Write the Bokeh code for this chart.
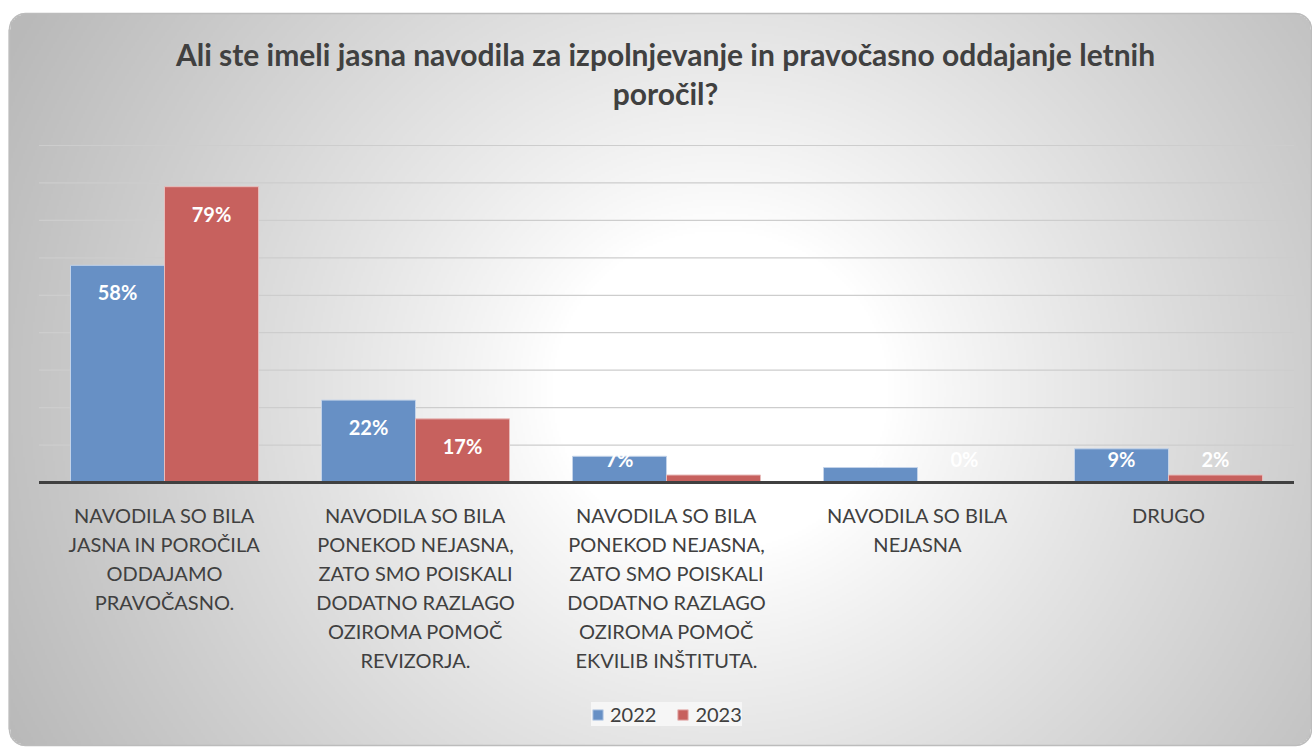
import numpy as np
from bokeh.plotting import figure
from bokeh.models import Range1d, Legend, LegendItem
from bokeh.core.properties import value
from bokeh.embed import file_html
from bokeh.resources import INLINE

# ---------------- data ----------------
title_lines = ["Ali ste imeli jasna navodila za izpolnjevanje in pravočasno oddajanje letnih",
               "poročil?"]
categories = [
    "NAVODILA SO BILA\nJASNA IN POROČILA\nODDAJAMO\nPRAVOČASNO.",
    "NAVODILA SO BILA\nPONEKOD NEJASNA,\nZATO SMO POISKALI\nDODATNO RAZLAGO\nOZIROMA POMOČ\nREVIZORJA.",
    "NAVODILA SO BILA\nPONEKOD NEJASNA,\nZATO SMO POISKALI\nDODATNO RAZLAGO\nOZIROMA POMOČ\nEKVILIB INŠTITUTA.",
    "NAVODILA SO BILA\nNEJASNA",
    "DRUGO",
]
series_names = ["2022", "2023"]
values_2022 = [58, 22, 7, 4, 9]
values_2023 = [79, 17, 2, 0, 2]
grid_ticks = [10, 20, 30, 40, 50, 60, 70, 80, 90]

# ---------------- layout (page pixels) ----------------
W, H = 1312, 747
CAT_PX0, CAT_STEP = 164, 251
BASE_PX, PX_PER_PCT = 482, 337 / 90

x_start = (0 - CAT_PX0) / CAT_STEP
x_end = (W - CAT_PX0) / CAT_STEP
y_end = BASE_PX / PX_PER_PCT
y_start = (BASE_PX - H) / PX_PER_PCT

TEXT = "#404040"
FONT = value("Lato")
BLUE, BLUE_LINE = "#6790c5", "#c3d3e9"
RED, RED_LINE = "#c7615e", "#e8bcbb"

p = figure(width=W, height=H, x_range=Range1d(x_start, x_end), y_range=Range1d(y_start, y_end),
           output_backend="svg", toolbar_location=None, x_axis_location=None,
           y_axis_location=None, min_border=0)
p.grid.visible = False
p.outline_line_color = None
p.border_fill_color = "white"
p.background_fill_color = "white"
p.extra_x_ranges = {"px": Range1d(0, W)}
p.extra_y_ranges = {"py": Range1d(0, H)}


def py(Y):
    return H - Y


def pct(Y):
    return (BASE_PX - Y) / PX_PER_PCT


# ---------------- background (radial gradient in a rounded box) ----------------
s = 2
w2, h2 = (W + 1) // s, (H + 1) // s
xs = (np.arange(w2) + 0.5) * s
Ys = H - (np.arange(h2) + 0.5) * s
XX, YY = np.meshgrid(xs, Ys)
d = np.hypot((XX - 720) * 0.95, YY - 390)
t = np.clip((d - 160) / 600, 0, 1) ** 0.9
g = (255 - 70 * t).astype(np.uint8)
L, T, R, B, rad = 9, 13, 1311, 745, 16
qx = np.maximum(np.maximum(L + rad - XX, XX - (R - rad)), 0)
qy = np.maximum(np.maximum(T + rad - YY, YY - (B - rad)), 0)
inside = np.hypot(qx, qy) <= rad
rgba = np.zeros((h2, w2, 4), dtype=np.uint8)
rgba[..., 0] = g
rgba[..., 1] = g
rgba[..., 2] = g
rgba[..., 3] = np.where(inside, 255, 0)
img = rgba.view(np.uint32).reshape(h2, w2)
p.image_rgba(image=[img], x=0, y=py(H), dw=w2 * s, dh=h2 * s,
             x_range_name="px", y_range_name="py")

# rounded outline
ang = np.linspace(0, np.pi / 2, 12)
ox, oy = [], []
for cx, cy, a0 in [(R - rad, T + rad, 0), (L + rad, T + rad, np.pi / 2),
                   (L + rad, B - rad, np.pi), (R - rad, B - rad, 1.5 * np.pi)]:
    for a in a0 + ang:
        ox.append(cx + rad * np.cos(a))
        oy.append(py(cy - rad * np.sin(a)))
p.patch(ox, oy, fill_color=None, line_color="#bcbcbc", line_width=1.5,
        x_range_name="px", y_range_name="py")

# ---------------- title ----------------
p.text(x=[665] * len(title_lines), y=[py(53), py(92.5)], text=title_lines,
       text_font=FONT, text_font_style="bold", text_font_size="30px",
       text_color=TEXT, text_align="center", text_baseline="middle",
       x_range_name="px", y_range_name="py")

# ---------------- grid ----------------
p.segment(x0=-0.5, x1=4.5, y0=grid_ticks, y1=grid_ticks, line_color="#cdcdcd", line_width=1.2)

# ---------------- bars ----------------
idx = np.arange(len(categories))
bw = 0.3745
r1 = p.vbar(x=idx - bw / 2, top=values_2022, bottom=0, width=bw,
            fill_color=BLUE, line_color=BLUE_LINE, line_width=1)
r2 = p.vbar(x=idx + bw / 2, top=values_2023, bottom=0, width=bw,
            fill_color=RED, line_color=RED_LINE, line_width=1)

# baseline
p.segment(x0=[-0.5], x1=[4.5], y0=[0], y1=[0], line_color="#404040", line_width=3)

# data labels (inside end; short bars keep a minimum height)
for off, vals in [(-bw / 2, values_2022), (bw / 2, values_2023)]:
    vals = np.array(vals)
    p.text(x=idx + off, y=np.maximum(vals, 13.4), text=[f"{v}%" for v in vals],
           y_offset=27, text_font=FONT, text_font_style="bold", text_font_size="20px",
           text_color="white", text_align="center", text_baseline="middle")

# category labels
lx, ly, lt = [], [], []
for i, c in enumerate(categories):
    for k, line in enumerate(c.split("\n")):
        lx.append(i)
        ly.append(pct(514 + 29.1 * k))
        lt.append(line)
p.text(x=lx, y=ly, text=lt, text_font=FONT, text_font_size="20px", text_color=TEXT,
       text_align="center", text_baseline="middle")

# ---------------- legend ----------------
legend = Legend(items=[LegendItem(label=series_names[0], renderers=[r1]),
                       LegendItem(label=series_names[1], renderers=[r2])],
                orientation="horizontal", location=(591, 21),
                glyph_width=13, glyph_height=13, label_standoff=6, spacing=20,
                padding=12, margin=0,
                label_text_font="Lato", label_text_font_size="20px", label_text_color=TEXT,
                background_fill_color="#f6f6f6", background_fill_alpha=1,
                border_line_color=None)
p.add_layout(legend, "center")

open("out.html", "w").write(file_html(p, INLINE))
